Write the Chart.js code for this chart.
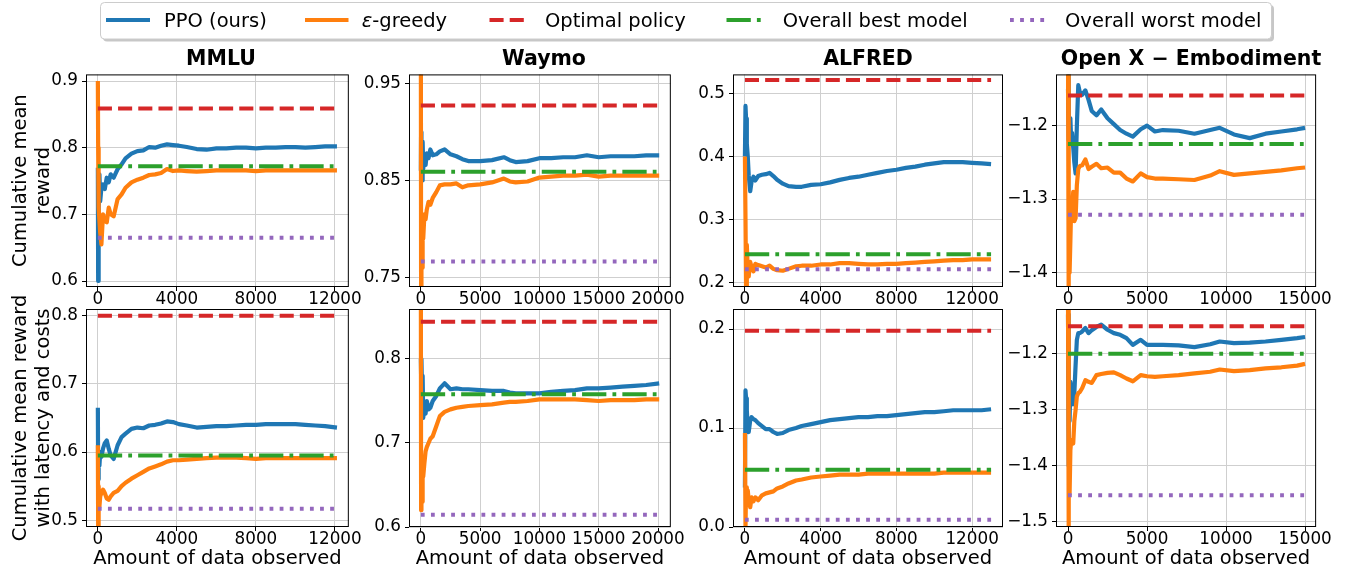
<!DOCTYPE html>
<html>
<head>
<meta charset="utf-8">
<script src="https://cdn.jsdelivr.net/npm/chart.js@4.4.1/dist/chart.umd.min.js"></script>
<style>
  body { margin: 0; background: #fff; width: 1354px; height: 572px; position: relative; overflow: hidden; }
  canvas { position: absolute; }
  #overlay { position: absolute; left: 0; top: 0; }
</style>
</head>
<body>
<div id="panels"></div>
<svg id="overlay" width="1354" height="80" font-family="'DejaVu Sans', sans-serif">
  <rect x="103" y="5" width="1171" height="36.5" rx="4" fill="rgba(0,0,0,0.22)"/>
  <rect x="100.5" y="2.5" width="1171" height="36.5" rx="4" fill="#fff" stroke="#cccccc" stroke-width="1"/>
  <line x1="106" y1="20" x2="150" y2="20" stroke="#1f77b4" stroke-width="4"/>
  <text x="164" y="26.7" font-size="19.5">PPO (ours)</text>
  <line x1="305" y1="20" x2="348.5" y2="20" stroke="#ff7f0e" stroke-width="4"/>
  <text x="361.7" y="26.7" font-size="19.5"><tspan font-style="italic">ε</tspan>-greedy</text>
  <line x1="489.5" y1="20" x2="527.5" y2="20" stroke="#d62728" stroke-width="4" stroke-dasharray="14.1 6.1"/>
  <text x="545" y="26.7" font-size="19.5">Optimal policy</text>
  <line x1="726.5" y1="20" x2="764.5" y2="20" stroke="#2ca02c" stroke-width="4" stroke-dasharray="24.3 6.1 3.8 6.1"/>
  <text x="782.7" y="26.7" font-size="19.5">Overall best model</text>
  <line x1="1010" y1="20" x2="1048" y2="20" stroke="#9467bd" stroke-width="4" stroke-dasharray="3.8 6.3"/>
  <text x="1065" y="26.7" font-size="19.5">Overall worst model</text>
  <g font-size="20.5" font-weight="bold" text-anchor="middle">
    <text x="221" y="65">MMLU</text>
    <text x="544" y="65">Waymo</text>
    <text x="868" y="65">ALFRED</text>
    <text x="1191" y="65">Open X − Embodiment</text>
  </g>
</svg>
<script>
// ---- data ----
const mmluX = [0,15,40,80,120,180,260,350,450,550,650,800,1000,1200,1400,1700,2000,2300,2600,2900,3200,3500,3800,4100,4500,5000,5500,6000,6500,7000,7500,8000,8500,9000,9500,10000,10500,11000,11500,12100];
const mmluPpoReward = [0.77,0.60,0.71,0.76,0.72,0.74,0.745,0.738,0.755,0.748,0.76,0.755,0.768,0.775,0.784,0.791,0.795,0.796,0.801,0.80,0.803,0.805,0.804,0.803,0.801,0.798,0.797,0.799,0.799,0.80,0.80,0.799,0.80,0.80,0.801,0.801,0.80,0.801,0.802,0.802];
const mmluEpsReward = [0.90,0.80,0.71,0.69,0.672,0.655,0.70,0.69,0.688,0.71,0.70,0.697,0.723,0.73,0.74,0.748,0.752,0.755,0.759,0.76,0.762,0.768,0.765,0.766,0.765,0.764,0.765,0.766,0.766,0.766,0.766,0.765,0.766,0.766,0.766,0.766,0.766,0.766,0.766,0.766];
const mmluPpoCost = [0.665,0.56,0.60,0.58,0.60,0.593,0.605,0.613,0.617,0.605,0.595,0.59,0.61,0.622,0.627,0.634,0.636,0.635,0.639,0.64,0.642,0.645,0.644,0.641,0.639,0.636,0.637,0.638,0.638,0.639,0.64,0.64,0.641,0.641,0.641,0.641,0.64,0.639,0.638,0.636];
const mmluEpsCost = [0.61,0.49,0.55,0.52,0.535,0.54,0.545,0.54,0.532,0.53,0.535,0.54,0.543,0.55,0.555,0.561,0.566,0.571,0.576,0.579,0.582,0.586,0.588,0.588,0.589,0.59,0.591,0.592,0.592,0.592,0.591,0.59,0.591,0.591,0.591,0.591,0.591,0.591,0.591,0.591];

const waymoX = [0,20,50,100,150,200,300,400,500,650,800,1000,1300,1600,2000,2500,3000,3500,4000,5000,6000,7000,7500,8000,9000,10000,11000,12000,13000,14000,15000,16000,17000,18000,19000,20100];
const waymoPpoReward = [0.86,0.90,0.87,0.85,0.89,0.862,0.875,0.866,0.878,0.873,0.882,0.876,0.877,0.88,0.882,0.877,0.875,0.872,0.87,0.87,0.871,0.874,0.871,0.869,0.87,0.873,0.873,0.874,0.874,0.876,0.874,0.875,0.875,0.875,0.876,0.876];
const waymoEpsReward = [1.0,0.74,0.80,0.76,0.79,0.79,0.815,0.81,0.82,0.828,0.825,0.832,0.838,0.845,0.846,0.846,0.847,0.843,0.845,0.846,0.848,0.852,0.849,0.848,0.849,0.853,0.854,0.855,0.855,0.856,0.854,0.855,0.855,0.855,0.855,0.855];
const waymoPpoCost = [0.80,0.78,0.80,0.76,0.78,0.73,0.744,0.735,0.75,0.74,0.742,0.75,0.756,0.765,0.771,0.764,0.765,0.764,0.764,0.763,0.762,0.762,0.76,0.759,0.759,0.759,0.761,0.762,0.763,0.765,0.765,0.766,0.767,0.768,0.769,0.771];
const waymoEpsCost = [0.90,0.62,0.65,0.63,0.66,0.66,0.676,0.69,0.695,0.70,0.705,0.708,0.72,0.732,0.737,0.74,0.742,0.743,0.744,0.745,0.746,0.748,0.749,0.749,0.75,0.752,0.752,0.752,0.752,0.751,0.75,0.751,0.751,0.751,0.752,0.752];

const alfredX = [0,30,60,100,150,200,280,350,450,550,700,900,1100,1300,1500,1700,2000,2300,2700,3000,3500,4000,4500,5000,5500,6000,6500,7000,7500,8000,8500,9000,9500,10000,10500,11000,11500,12000,12500,13000];
const alfredPpoReward = [0.40,0.48,0.46,0.42,0.40,0.37,0.345,0.36,0.368,0.362,0.369,0.371,0.372,0.374,0.369,0.363,0.357,0.353,0.352,0.352,0.355,0.356,0.359,0.363,0.366,0.368,0.371,0.374,0.377,0.379,0.382,0.384,0.387,0.389,0.391,0.391,0.391,0.39,0.389,0.388];
const alfredEpsReward = [0.40,0.30,0.19,0.26,0.22,0.21,0.233,0.225,0.218,0.23,0.228,0.226,0.224,0.227,0.222,0.22,0.219,0.222,0.226,0.227,0.227,0.229,0.229,0.231,0.231,0.23,0.229,0.229,0.23,0.23,0.231,0.232,0.233,0.234,0.235,0.236,0.236,0.237,0.237,0.237];
const alfredPpoCost = [0.04,0.138,0.13,0.118,0.10,0.096,0.108,0.111,0.109,0.108,0.105,0.102,0.099,0.099,0.096,0.094,0.095,0.098,0.10,0.102,0.104,0.106,0.108,0.109,0.11,0.111,0.111,0.112,0.112,0.113,0.114,0.115,0.116,0.116,0.117,0.118,0.118,0.118,0.118,0.119];
const alfredEpsCost = [0.095,0.0,0.04,0.035,0.037,0.027,0.02,0.03,0.026,0.03,0.027,0.032,0.034,0.035,0.036,0.039,0.041,0.044,0.047,0.048,0.05,0.051,0.052,0.053,0.053,0.053,0.054,0.054,0.054,0.054,0.054,0.054,0.054,0.054,0.055,0.055,0.055,0.055,0.055,0.055];

const openxX = [0,30,60,100,150,200,260,330,400,480,560,650,750,900,1100,1300,1500,1800,2100,2500,2900,3300,3700,4100,4600,5000,5500,6000,7000,8000,9000,9600,10500,11500,12500,13500,14500,15000];
const openxPpoReward = [-1.15,-1.13,-1.22,-1.20,-1.19,-1.22,-1.21,-1.23,-1.25,-1.265,-1.20,-1.145,-1.155,-1.158,-1.152,-1.165,-1.18,-1.186,-1.178,-1.19,-1.198,-1.206,-1.211,-1.215,-1.205,-1.20,-1.208,-1.206,-1.207,-1.211,-1.206,-1.203,-1.212,-1.217,-1.211,-1.208,-1.205,-1.203];
const openxEpsReward = [-1.10,-1.45,-1.33,-1.40,-1.357,-1.31,-1.312,-1.29,-1.33,-1.326,-1.281,-1.259,-1.255,-1.254,-1.246,-1.259,-1.256,-1.252,-1.258,-1.257,-1.264,-1.264,-1.272,-1.276,-1.265,-1.27,-1.272,-1.272,-1.273,-1.274,-1.268,-1.262,-1.267,-1.265,-1.263,-1.261,-1.258,-1.257];
const openxPpoCost = [-1.13,-1.40,-1.30,-1.32,-1.25,-1.26,-1.282,-1.29,-1.27,-1.22,-1.175,-1.163,-1.163,-1.16,-1.154,-1.163,-1.158,-1.152,-1.148,-1.157,-1.163,-1.166,-1.172,-1.184,-1.175,-1.184,-1.184,-1.184,-1.185,-1.188,-1.183,-1.178,-1.181,-1.18,-1.178,-1.175,-1.172,-1.17];
const openxEpsCost = [-1.10,-1.52,-1.40,-1.45,-1.372,-1.354,-1.354,-1.36,-1.32,-1.30,-1.276,-1.27,-1.268,-1.261,-1.247,-1.25,-1.252,-1.238,-1.236,-1.234,-1.233,-1.238,-1.244,-1.249,-1.238,-1.24,-1.241,-1.24,-1.238,-1.235,-1.232,-1.228,-1.231,-1.229,-1.226,-1.224,-1.221,-1.218];

// horizontal baselines, one value per benchmark (MMLU, Waymo, ALFRED, Open X)
const optimalReward = [0.859, 0.9274, 0.521, -1.159];
const bestReward = [0.772, 0.859, 0.2453, -1.2249];
const worstReward = [0.665, 0.7665, 0.2214, -1.3213];
const optimalCost = [0.80, 0.8444, 0.1983, -1.151];
const bestCost = [0.595, 0.758, 0.0578, -1.20];
const worstCost = [0.517, 0.6147, 0.0074, -1.4522];

// ticks
const xTicks = [[0,4000,8000,12000],[0,5000,10000,15000,20000],[0,4000,8000,12000],[0,5000,10000,15000]];
const xTickLabels = [['0','4000','8000','12000'],['0','5000','10000','15000','20000'],['0','4000','8000','12000'],['0','5000','10000','15000']];
const rewardTicks = [[0.6,0.7,0.8,0.9],[0.75,0.85,0.95],[0.2,0.3,0.4,0.5],[-1.4,-1.3,-1.2]];
const rewardTickLabels = [['0.6','0.7','0.8','0.9'],['0.75','0.85','0.95'],['0.2','0.3','0.4','0.5'],['\u22121.4','\u22121.3','\u22121.2']];
const costTicks = [[0.5,0.6,0.7,0.8],[0.6,0.7,0.8],[0.0,0.1,0.2],[-1.5,-1.4,-1.3,-1.2]];
const costTickLabels = [['0.5','0.6','0.7','0.8'],['0.6','0.7','0.8'],['0.0','0.1','0.2'],['\u22121.5','\u22121.4','\u22121.3','\u22121.2']];

// ---- layout ----
const xs = [mmluX, waymoX, alfredX, openxX];
const ppo = [[mmluPpoReward, waymoPpoReward, alfredPpoReward, openxPpoReward], [mmluPpoCost, waymoPpoCost, alfredPpoCost, openxPpoCost]];
const eps = [[mmluEpsReward, waymoEpsReward, alfredEpsReward, openxEpsReward], [mmluEpsCost, waymoEpsCost, alfredEpsCost, openxEpsCost]];
const optimal = [optimalReward, optimalCost];
const best = [bestReward, bestCost];
const worst = [worstReward, worstCost];
const yTicks = [rewardTicks, costTicks];
const yTickLabels = [rewardTickLabels, costTickLabels];

const xLimits = [[-600, 12700], [-1000, 21080], [-630, 13630], [-760, 15700]];
const yLimits = [
  [[0.591, 0.91], [0.7402, 0.9594], [0.1933, 0.53], [-1.4196, -1.1303]],
  [[0.4901, 0.8099], [0.6, 0.8595], [0.0, 0.2203], [-1.509, -1.12]]
];
const yTitles = [['Cumulative mean', 'reward'], ['Cumulative mean reward', 'with latency and costs']];

const colLeft = [86, 409, 733, 1056];
const plotW = 270;

Chart.defaults.font.family = "'DejaVu Sans', sans-serif";
Chart.defaults.color = '#000';

const frame = {
  id: 'frame',
  afterDatasetsDraw(chart) {
    const a = chart.chartArea;
    const ctx = chart.ctx;
    ctx.save();
    ctx.strokeStyle = '#000';
    ctx.lineWidth = 1;
    ctx.strokeRect(a.left + 0.5, a.top + 0.5, a.right - a.left - 1, a.bottom - a.top - 1);
    ctx.restore();
  }
};

function pts(xv, yv) {
  return xv.map((x, i) => ({x: x, y: yv[i]}));
}
function hline(xv, v) {
  return [{x: xv[0], y: v}, {x: xv[xv.length - 1], y: v}];
}

const holder = document.getElementById('panels');
for (let r = 0; r < 2; r++) {
  for (let c = 0; c < 4; c++) {
    const yW = c === 0 ? 86 : 60;
    const padTop = r === 0 ? 8 : 19;
    const xH = r === 0 ? 24 : 45;
    const canvasTop = r === 0 ? 62 : 290;
    const plotH = r === 0 ? 217 : 218;
    const w = yW + plotW + 6;
    const h = padTop + plotH + xH;
    const cv = document.createElement('canvas');
    cv.width = w; cv.height = h;
    cv.style.left = (colLeft[c] - yW) + 'px';
    cv.style.top = canvasTop + 'px';
    holder.appendChild(cv);

    const xv = xs[c];
    new Chart(cv, {
      type: 'line',
      data: {
        datasets: [
          {label: 'PPO (ours)', data: pts(xv, ppo[r][c]), borderColor: '#1f77b4', borderWidth: 4.2, borderJoinStyle: 'round', order: 5},
          {label: 'ε-greedy', data: pts(xv, eps[r][c]), borderColor: '#ff7f0e', borderWidth: 4.2, borderJoinStyle: 'round', order: 4},
          {label: 'Optimal policy', data: hline(xv, optimal[r][c]), borderColor: '#d62728', borderWidth: 4, borderDash: [14.1, 6.1], order: 3},
          {label: 'Overall best model', data: hline(xv, best[r][c]), borderColor: '#2ca02c', borderWidth: 4, borderDash: [24.3, 6.1, 3.8, 6.1], order: 2},
          {label: 'Overall worst model', data: hline(xv, worst[r][c]), borderColor: '#9467bd', borderWidth: 4, borderDash: [3.8, 6.3], order: 1}
        ]
      },
      options: {
        responsive: false,
        animation: false,
        devicePixelRatio: 1,
        events: [],
        elements: {point: {radius: 0}, line: {tension: 0, fill: false, borderCapStyle: 'butt'}},
        datasets: {line: {clip: 0}},
        layout: {padding: {top: padTop, right: 6, left: 0, bottom: 0}},
        plugins: {legend: {display: false}, tooltip: {enabled: false}},
        scales: {
          x: {
            type: 'linear',
            min: xLimits[c][0], max: xLimits[c][1],
            afterBuildTicks: s => { s.ticks = xTicks[c].map(v => ({value: v})); },
            afterFit: s => { s.height = xH; },
            ticks: {callback: (v, i) => xTickLabels[c][i], font: {size: 16.8, lineHeight: 1}, color: '#000', padding: 0, maxRotation: 0, autoSkip: false},
            grid: {color: '#cfcfcf', lineWidth: 1, tickLength: 4, tickColor: '#000', tickWidth: 1},
            border: {display: false},
            title: {display: r === 1, text: 'Amount of data observed', font: {size: 19.5}, color: '#000', padding: {top: 0, bottom: 1}}
          },
          y: {
            min: yLimits[r][c][0], max: yLimits[r][c][1],
            afterBuildTicks: s => { s.ticks = yTicks[r][c].map(v => ({value: v})); },
            afterFit: s => { s.width = yW; },
            ticks: {callback: (v, i) => yTickLabels[r][c][i], font: {size: 16.8, lineHeight: 1}, color: '#000', padding: 4, autoSkip: false},
            grid: {color: '#cfcfcf', lineWidth: 1, tickLength: 4, tickColor: '#000', tickWidth: 1},
            border: {display: false},
            title: {display: c === 0, text: yTitles[r], font: {size: 19.5, lineHeight: '23px'}, color: '#000', padding: {top: 9, bottom: 0}}
          }
        }
      },
      plugins: [frame]
    });
  }
}
</script>
</body>
</html>
